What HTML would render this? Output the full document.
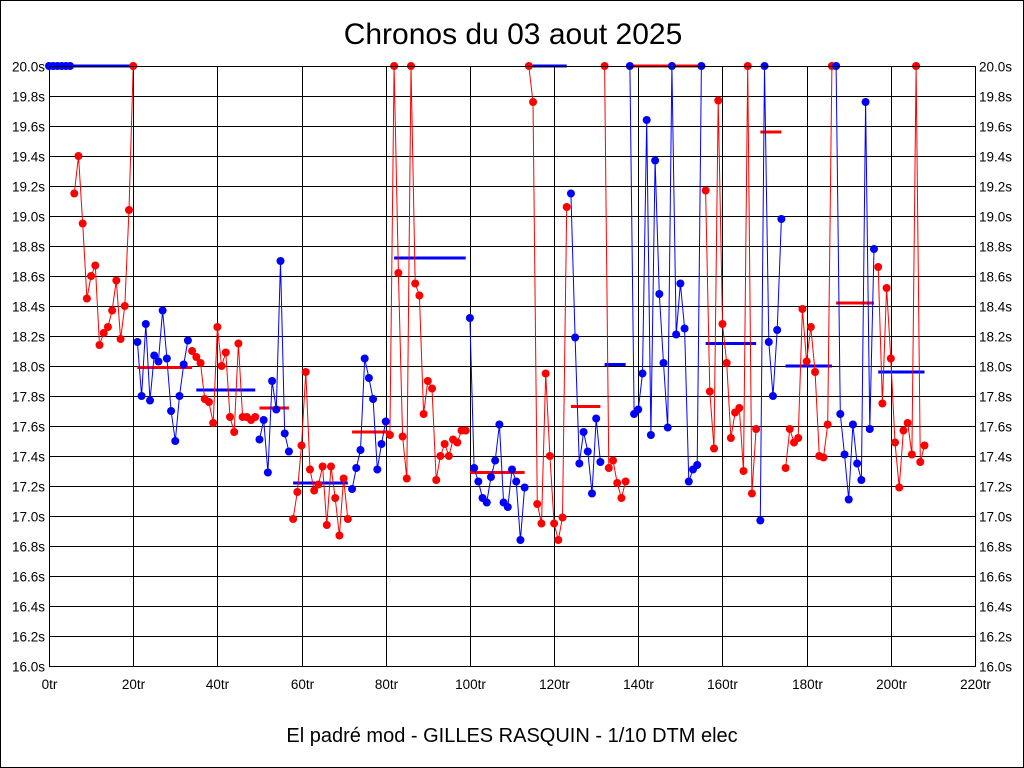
<!DOCTYPE html>
<html><head><meta charset="utf-8"><style>
html,body{margin:0;padding:0;background:#fff;}
svg{display:block;}
text{font-family:"Liberation Sans",sans-serif;}
</style></head><body>
<svg id="chart" width="1024" height="768" viewBox="0 0 1024 768">
<rect x="0.5" y="0.5" width="1023" height="767" fill="#fff" stroke="#000"/>
<text x="513" y="44" font-size="30" text-anchor="middle">Chronos du 03 aout 2025</text>
<text x="512" y="742" font-size="20" text-anchor="middle">El padré mod - GILLES RASQUIN - 1/10 DTM elec</text>
<g id="grid"></g><g id="means"></g><g id="series"></g><g id="ticks"></g>
</svg>
<script>
const segStarts=[0,6,21,34,50,58,72,81,100,114,124,132,138,156,169,175,187,197];
const lapValues=[20,20,20,20,20,20,
19.15,19.40,18.95,18.45,18.60,18.67,18.14,18.22,18.26,18.37,18.57,18.18,18.40,19.04,20.0,
18.16,17.80,18.28,17.77,18.07,18.03,18.37,18.05,17.70,17.50,17.80,18.01,18.17,
18.10,18.06,18.02,17.78,17.76,17.62,18.26,18.00,18.09,17.66,17.56,18.15,17.66,17.66,17.64,17.66,
17.51,17.64,17.29,17.90,17.71,18.70,17.55,17.43,
16.98,17.16,17.47,17.96,17.31,17.17,17.21,17.33,16.94,17.33,17.12,16.87,17.25,16.98,
17.18,17.32,17.44,18.05,17.92,17.78,17.31,17.48,17.63,
17.54,20.0,18.62,17.53,17.25,20.0,18.55,18.47,17.68,17.90,17.85,17.24,17.40,17.48,17.40,17.51,17.49,17.57,17.57,
18.32,17.32,17.23,17.12,17.09,17.26,17.37,17.61,17.09,17.06,17.31,17.23,16.84,17.19,
20.0,19.76,17.08,16.95,17.95,17.40,16.95,16.84,16.99,19.06,
19.15,18.19,17.35,17.56,17.43,17.15,17.65,17.36,
20.0,17.32,17.37,17.22,17.12,17.23,
20.0,17.68,17.71,17.95,19.64,17.54,19.37,18.48,18.02,17.59,20.0,18.21,18.55,18.25,17.23,17.31,17.34,20.0,
19.17,17.83,17.45,19.77,18.28,18.02,17.52,17.69,17.72,17.30,20.0,17.15,17.58,
16.97,20.0,18.16,17.80,18.24,18.98,
17.32,17.58,17.49,17.52,18.38,18.03,18.26,17.96,17.40,17.39,17.61,20.0,
20.0,17.68,17.41,17.11,17.61,17.35,17.24,19.76,17.58,18.78,
18.66,17.75,18.52,18.05,17.49,17.19,17.57,17.62,17.41,20.0,17.36,17.47];
const meanStart=[0,21,35,50,58,72,82,100,114,124,132,138,156,169,175,187,197];
const meanEnd=[20,34,49,57,71,81,99,113,123,131,137,155,168,174,186,196,208];
const meanVal=[20.0,17.99,17.84,17.72,17.22,17.56,18.72,17.29,20.0,17.73,18.01,20.0,18.15,19.56,18.00,18.42,17.96];
const xTicks=[0,20,40,60,80,100,120,140,160,180,200,220];
const yTicks=[16.0,16.2,16.4,16.6,16.8,17.0,17.2,17.4,17.6,17.8,18.0,18.2,18.4,18.6,18.8,19.0,19.2,19.4,19.6,19.8,20.0];

const X0=49,X1=975,Y0=66,Y1=666;
const xs=v=>X0+(v-0)/(220-0)*(X1-X0);
const ys=v=>Y1-(v-16)/(20-16)*(Y1-Y0);
const NS="http://www.w3.org/2000/svg";
function mk(tag,attrs,parent){const e=document.createElementNS(NS,tag);for(const k in attrs)e.setAttribute(k,attrs[k]);document.getElementById(parent).appendChild(e);return e;}

yTicks.forEach(t=>{
  const y=Math.round(ys(t))+0.5;
  const l=mk('line',{x1:X0,x2:X1,y1:y,y2:y,stroke:'#000','stroke-width':1},'grid');
  
  
  const a=mk('text',{x:X0-4,y:y+5,'font-size':13.5,'text-anchor':'end'},'ticks');a.textContent=t.toFixed(1)+'s';
  
  
  const b=mk('text',{x:X1+4,y:y+5,'font-size':13.5,'text-anchor':'start'},'ticks');b.textContent=t.toFixed(1)+'s';
  
  
});
xTicks.forEach(t=>{
  const x=Math.round(xs(t))+0.5;
  const l=mk('line',{x1:x,x2:x,y1:Y0,y2:Y1,stroke:'#000','stroke-width':1},'grid');
  
  
  const a=mk('text',{x:x,y:Y1+23,'font-size':13.5,'text-anchor':'middle'},'ticks');a.textContent=t+'tr';
  
  
});
meanStart.forEach((s,i)=>{
  const col=i%2===0?'#0000ff':'#ff0000';
  const l=mk('line',{x1:xs(s),x2:xs(meanEnd[i]),y1:ys(meanVal[i]),y2:ys(meanVal[i]),stroke:col,'stroke-width':3},'means');
  
  
});
segStarts.forEach((s,k)=>{
  const e=k+1<segStarts.length?segStarts[k+1]:lapValues.length;
  const col=k%2===0?'#0000ff':'#ff0000';
  let pts=[];
  for(let i=s;i<e;i++)pts.push(xs(i).toFixed(1)+','+ys(lapValues[i]).toFixed(1));
  const pl=mk('polyline',{points:pts.join(' '),fill:'none',stroke:col,'stroke-width':1},'series');
  
  
  for(let i=s;i<e;i++){
    const c=mk('circle',{cx:xs(i),cy:ys(lapValues[i]),r:4,fill:col},'series');
    
    
  }
});
const fr=mk('rect',{x:X0+0.5,y:Y0+0.5,width:X1-X0,height:Y1-Y0,fill:'none',stroke:'#000'},'ticks');


</script>
</body></html>
